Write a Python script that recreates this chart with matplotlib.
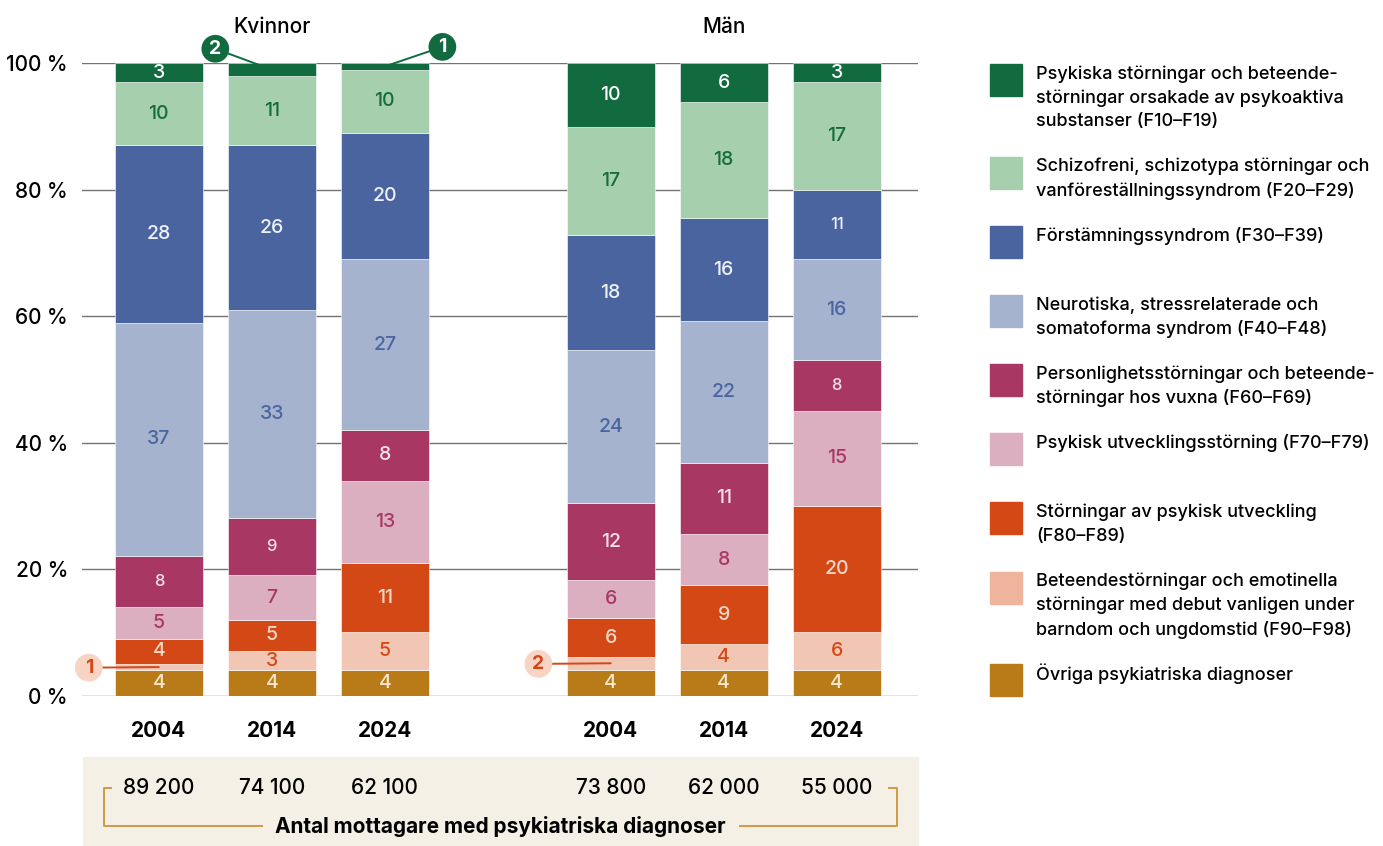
import matplotlib
matplotlib.use("Agg")
import numpy as np
from matplotlib import pyplot as plt
from matplotlib.patches import Rectangle
from matplotlib.lines import Line2D
from matplotlib.transforms import blended_transform_factory

plt.rcParams["font.family"] = ["Inter", "DejaVu Sans"]
plt.rcParams["font.weight"] = "medium"

W, H = 1383, 846

# --- data (bars: Kvinnor 2004/2014/2024, Män 2004/2014/2024) ---
groups = ["Kvinnor", "Män"]
years = ["2004", "2014", "2024", "2004", "2014", "2024"]
positions = [0, 1, 2, 4, 5, 6]
recipients = ["89 200", "74 100", "62 100", "73 800", "62 000", "55 000"]
recipients_title = "Antal mottagare med psykiatriska diagnoser"

# stacked bottom -> top
categories = [
    "Övriga psykiatriska diagnoser",
    "Beteendestörningar och emotinella\nstörningar med debut vanligen under\nbarndom och ungdomstid (F90–F98)",
    "Störningar av psykisk utveckling\n(F80–F89)",
    "Psykisk utvecklingsstörning (F70–F79)",
    "Personlighetsstörningar och beteende-\nstörningar hos vuxna (F60–F69)",
    "Neurotiska, stressrelaterade och\nsomatoforma syndrom (F40–F48)",
    "Förstämningssyndrom (F30–F39)",
    "Schizofreni, schizotypa störningar och\nvanföreställningssyndrom (F20–F29)",
    "Psykiska störningar och beteende-\nstörningar orsakade av psykoaktiva\nsubstanser (F10–F19)",
]

ovriga = [4, 4, 4, 4.1, 4.1, 4]
beteende = [1, 3, 6, 2.0, 4.1, 6]
utveckling = [4, 5, 11, 6.1, 9.2, 20]
utv_storning = [5, 7, 13, 6.1, 8.2, 15]
personlighet = [8, 9, 8, 12.1, 11.2, 8]
neurotiska = [37, 33, 27, 24.2, 22.4, 16]
forstamning = [28, 26, 20, 18.2, 16.3, 11]
schizofreni = [10, 11, 10, 17.2, 18.4, 17]
psykoaktiva = [3, 2, 1, 10.0, 6.1, 3]

# printed (rounded) labels
ovriga_lbl = [4, 4, 4, 4, 4, 4]
beteende_lbl = [1, 3, 5, 2, 4, 6]
utveckling_lbl = [4, 5, 11, 6, 9, 20]
utv_storning_lbl = [5, 7, 13, 6, 8, 15]
personlighet_lbl = [8, 9, 8, 12, 11, 8]
neurotiska_lbl = [37, 33, 27, 24, 22, 16]
forstamning_lbl = [28, 26, 20, 18, 16, 11]
schizofreni_lbl = [10, 11, 10, 17, 18, 17]
psykoaktiva_lbl = [3, 2, 1, 10, 6, 3]

series = [ovriga, beteende, utveckling, utv_storning, personlighet,
          neurotiska, forstamning, schizofreni, psykoaktiva]
labels = [ovriga_lbl, beteende_lbl, utveckling_lbl, utv_storning_lbl, personlighet_lbl,
          neurotiska_lbl, forstamning_lbl, schizofreni_lbl, psykoaktiva_lbl]

colors = ["#b97a18", "#f2c6b4", "#d44816", "#dcafc0", "#a83863",
          "#a5b3cf", "#4a649f", "#a6d0ad", "#116b3f"]
text_colors = ["#f5e8cc", "#d44816", "#f7d8c8", "#a83863", "#f6e0ea",
               "#4a649f", "#eef1f8", "#136b3e", "#ffffff"]
legend_colors = ["#b97a18", "#eeb59c", "#d44816", "#dcafc0", "#a83863",
                 "#a5b3cf", "#4a649f", "#a6d0ad", "#116b3f"]

# segments shown as callouts: (category index, bar index, circle x, circle y)
callouts = [(1, 0, -0.62, 4.4), (1, 3, 3.36, 5.0), (8, 1, 0.50, 102.3), (8, 2, 2.51, 102.6)]
small_labels = [(4, 0), (4, 1), (6, 5), (4, 5)]


def px(x, y):
    return x / W, 1 - y / H


fig = plt.figure(figsize=(W / 100, H / 100), dpi=100)
ax = fig.add_axes([82 / W, 1 - 695.5 / H, (918 - 82) / W, (695.5 - 63.3) / H])

bottom = np.zeros(len(positions))
skip = {(c, b) for c, b, _, _ in callouts}
for ci, vals in enumerate(series):
    vals = np.array(vals, dtype=float)
    ax.bar(positions, vals, bottom=bottom, width=0.78, color=colors[ci],
           edgecolor="white", linewidth=0.4, zorder=2)
    for bi, pos in enumerate(positions):
        if (ci, bi) in skip:
            continue
        fs = 12 if (ci, bi) in small_labels else 14
        ax.text(pos, bottom[bi] + vals[bi] / 2, str(labels[ci][bi]), ha="center",
                va="center", fontsize=fs, color=text_colors[ci], zorder=3)
    bottom += vals

# callouts
cum = np.cumsum([np.zeros(6)] + [np.array(s, dtype=float) for s in series], axis=0)
for ci, bi, cx, cy in callouts:
    mid = (cum[ci][bi] + cum[ci + 1][bi]) / 2
    if ci == 8:
        fc, tc, lc = "#116b3f", "white", "#116b3f"
    else:
        fc, tc, lc = "#f7d4c4", "#d44816", "#d44816"
    ax.annotate(str(labels[ci][bi]), xy=(positions[bi], mid), xytext=(cx, cy),
                textcoords="data", ha="center", va="center", fontsize=14,
                fontweight="bold", color=tc, zorder=4, annotation_clip=False,
                bbox=dict(boxstyle="circle,pad=0.25", fc=fc, ec="none"),
                arrowprops=dict(arrowstyle="-", color=lc, lw=1.4, shrinkA=0, shrinkB=0))

ax.set_xlim(-0.68, 6.72)
ax.set_ylim(0, 100)
ax.set_yticks(range(0, 101, 20))
ax.set_yticklabels([f"{v} %" for v in range(0, 101, 20)], fontsize=15)
ax.set_xticks(positions)
ax.set_xticklabels(years, fontsize=15, fontweight="bold")
ax.tick_params(axis="both", length=0)
ax.tick_params(axis="x", pad=18)
ax.tick_params(axis="y", pad=10)
ax.grid(axis="y", color="#737373", linewidth=1)
ax.set_axisbelow(True)
for s in ax.spines.values():
    s.set_visible(False)

ax.text(1, 105.8, groups[0], ha="center", va="center", fontsize=15, clip_on=False)
ax.text(5, 105.8, groups[1], ha="center", va="center", fontsize=15, clip_on=False)

# recipients box
fig.patches.append(Rectangle(px(83, 846), (918 - 83) / W, (846 - 757) / H,
                             transform=fig.transFigure, color="#f4f0e6", zorder=-1))
tr = blended_transform_factory(ax.transData, fig.transFigure)
for pos, txt in zip(positions, recipients):
    ax.text(pos, 1 - 788 / H, txt, transform=tr, ha="center", va="center",
            fontsize=15, clip_on=False)
fig.text(*px(500, 826), recipients_title, ha="center", va="center",
         fontsize=15, fontweight="bold")
gold = "#cf9a45"
for xs, ys in [([111, 104, 104, 262], [788, 788, 826, 826]),
               ([740, 897, 897, 889], [826, 826, 788, 788])]:
    fig.lines.append(Line2D([x / W for x in xs], [1 - y / H for y in ys],
                            transform=fig.transFigure, color=gold, lw=1.4))

# legend (top -> bottom)
legend_tops = [64, 156.7, 225.7, 295, 364, 433.3, 502.3, 571.7, 664]
for k, top in enumerate(legend_tops):
    ci = len(categories) - 1 - k
    fig.patches.append(Rectangle(px(990, top + 32), 32 / W, 32 / H,
                                 transform=fig.transFigure, color=legend_colors[ci]))
    for li, line in enumerate(categories[ci].split("\n")):
        fig.text(*px(1036, top + 10 + li * 24), line, ha="left", va="center", fontsize=13)

fig.savefig("out.png", dpi=100)
